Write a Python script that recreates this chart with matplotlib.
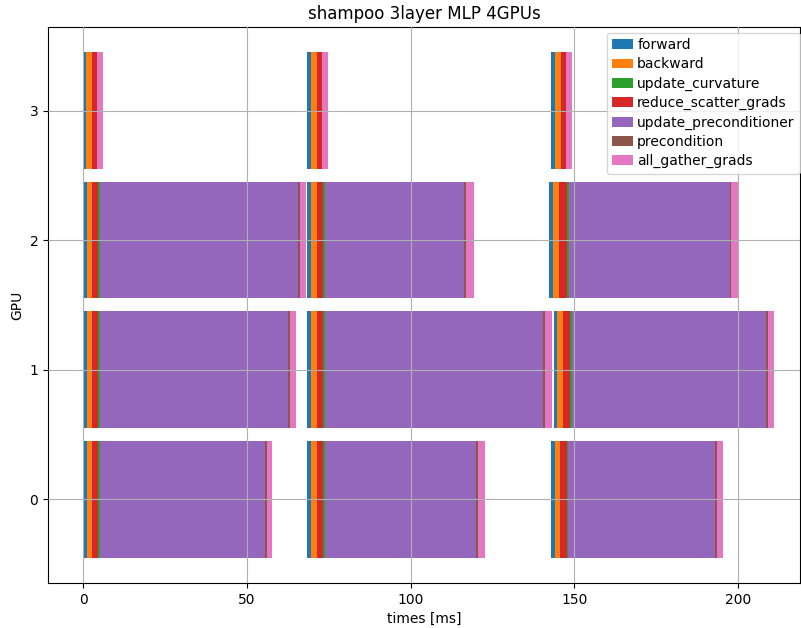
import numpy as np
import matplotlib
matplotlib.use('Agg')
import matplotlib.pyplot as plt
from matplotlib.ticker import MultipleLocator

# fases en orden de leyenda
phases = ['forward', 'backward', 'update_curvature', 'reduce_scatter_grads',
          'update_preconditioner', 'precondition', 'all_gather_grads']
colors = ['tab:blue', 'tab:orange', 'tab:green', 'tab:red',
          'tab:purple', 'tab:brown', 'tab:pink']
# orden temporal dentro de cada iteracion
time_order = ['forward', 'backward', 'reduce_scatter_grads', 'update_curvature',
              'update_preconditioner', 'precondition', 'all_gather_grads']

gpus = [0, 1, 2, 3]

# inicio de cada iteracion [gpu][iter] en ms
iter_start = np.array([
    [0.0, 68.4, 142.7],
    [0.0, 68.4, 143.6],
    [0.0, 68.4, 142.2],
    [0.0, 68.4, 142.7],
])

# duraciones [gpu][iter] en ms
durations = {
    'forward': np.array([[1.1, 1.1, 1.2], [1.1, 1.2, 1.1], [1.1, 1.1, 1.2], [1.0, 1.1, 1.2]]),
    'backward': np.array([[1.7, 2.0, 1.8], [1.7, 1.8, 1.9], [1.7, 2.0, 1.8], [1.7, 2.0, 2.0]]),
    'reduce_scatter_grads': np.array([[1.8, 1.7, 2.0], [1.8, 1.9, 2.0], [1.8, 1.8, 2.5], [1.5, 1.5, 1.5]]),
    'update_curvature': np.array([[0.5, 0.5, 0.4], [0.6, 0.5, 0.5], [0.6, 0.5, 0.5], [0.0, 0.0, 0.0]]),
    'update_preconditioner': np.array([[50.5, 46.1, 44.9], [57.4, 66.7, 59.5], [60.4, 42.5, 49.2], [0.0, 0.0, 0.0]]),
    'precondition': np.array([[0.4, 0.6, 0.6], [0.5, 0.6, 0.5], [0.6, 0.6, 0.4], [0.0, 0.0, 0.0]]),
    'all_gather_grads': np.array([[1.7, 2.2, 1.8], [1.8, 2.0, 1.8], [1.7, 2.5, 2.3], [1.8, 1.9, 1.8]]),
}

# calcular inicios acumulados
starts = {}
t = iter_start.copy()
for ph in time_order:
    starts[ph] = t.copy()
    t = t + durations[ph]

fig, ax = plt.subplots(figsize=(8.01, 6.28), dpi=100)
for ph, c in zip(phases, colors):
    for k in range(3):
        ax.barh(gpus, durations[ph][:, k], left=starts[ph][:, k], height=0.9,
                color=c, label=ph if k == 0 else None)

ax.set_yticks(gpus)
ax.set_xlim(-10.7, 218.9)
ax.xaxis.set_major_locator(MultipleLocator(50))
ax.set_xlabel('times [ms]')
ax.set_ylabel('GPU')
ax.set_title('shampoo 3layer MLP 4GPUs')
ax.grid(True)
ax.set_axisbelow(False)
ax.legend(loc='upper right', handlelength=1.5, handletextpad=0.3, labelspacing=0.38,
          bbox_to_anchor=(1.0, 0.99), borderaxespad=0)
plt.subplots_adjust(left=0.06, right=0.999, top=0.957, bottom=0.072)
plt.savefig('out.png')
